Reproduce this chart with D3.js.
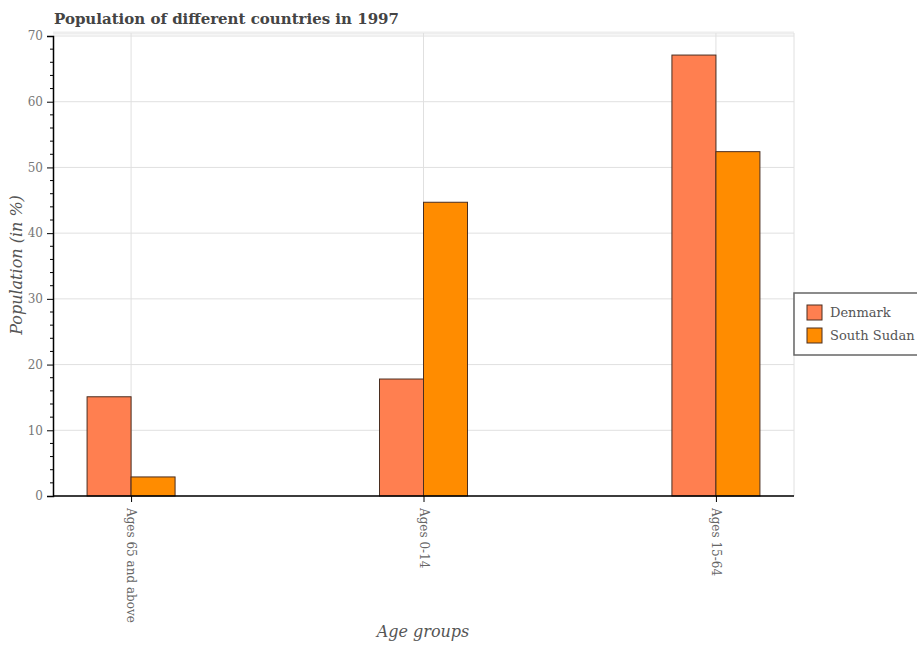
<!DOCTYPE html>
<html><head><meta charset="utf-8">
<script src="https://cdn.jsdelivr.net/npm/d3@7"></script>
<style>body{margin:0;background:#fff}</style>
</head><body>
<svg id="c" width="917" height="650"></svg>
<script>
const categories = ["Ages 65 and above", "Ages 0-14", "Ages 15-64"];
const seriesNames = ["Denmark", "South Sudan"];
const denmark = [15.1, 17.8, 67.1];
const southSudan = [2.9, 44.7, 52.4];
const colors = ["#ff7f50", "#ff8c00"];
const yTicks = [0, 10, 20, 30, 40, 50, 60, 70];

const svg = d3.select("#c");
const L = 53, R = 794, T = 33, B = 496;
const x = d3.scalePoint().domain(categories).range([L, R]).padding(0.267);
const y = d3.scaleLinear().domain([0, 70]).range([B, 36]);
const bw = 44;
const font = "DejaVu Serif, serif";

// gridlines
svg.append("line").attr("x1", L).attr("x2", R).attr("y1", T).attr("y2", T).attr("stroke", "#eee").attr("stroke-width", 3);
svg.append("g").selectAll("line").data(yTicks).join("line")
  .attr("x1", L).attr("x2", R).attr("y1", d => y(d)).attr("y2", d => y(d))
  .attr("stroke", "#e0e0e0").attr("stroke-width", 1);
svg.append("g").selectAll("line").data(categories).join("line")
  .attr("x1", d => x(d)).attr("x2", d => x(d)).attr("y1", T).attr("y2", B)
  .attr("stroke", "#e0e0e0").attr("stroke-width", 1);
svg.append("line").attr("x1", R).attr("x2", R).attr("y1", T).attr("y2", B).attr("stroke", "#e0e0e0");

// bars
const series = [denmark, southSudan];
series.forEach((vals, si) => {
  svg.append("g").selectAll("rect").data(categories).join("rect")
    .attr("x", d => x(d) + (si === 0 ? -bw : 0))
    .attr("y", (d, i) => y(vals[i]))
    .attr("width", bw)
    .attr("height", (d, i) => B - y(vals[i]))
    .attr("fill", colors[si])
    .attr("stroke", "#4a2e20").attr("stroke-width", 1);
});

// y axis
const ya = svg.append("g").attr("transform", `translate(${L},0)`)
  .call(d3.axisLeft(y).tickValues(yTicks).tickSize(6).tickPadding(4));
ya.select(".domain").attr("stroke", "#000").attr("stroke-width", 1.5);
ya.selectAll("text").attr("font-family", font).attr("font-size", 12).attr("fill", "#777");
const minor = d3.range(0, 71, 2).filter(v => v % 10 !== 0);
svg.append("g").selectAll("line").data(minor).join("line")
  .attr("x1", L - 3).attr("x2", L).attr("y1", d => y(d)).attr("y2", d => y(d)).attr("stroke", "#000");

// x axis
const xa = svg.append("g").attr("transform", `translate(0,${B})`)
  .call(d3.axisBottom(x).tickSize(6).tickSizeOuter(0));
xa.select(".domain").attr("stroke", "#000").attr("stroke-width", 1.5).attr("d", `M${L},0H${R}`);
xa.selectAll("text").attr("font-family", font).attr("font-size", 12).attr("fill", "#666")
  .attr("transform", "rotate(90)").attr("text-anchor", "start").attr("dy", "0.35em").attr("x", 12).attr("y", 0);

// title
svg.append("text").attr("x", 54).attr("y", 24).text("Population of different countries in 1997")
  .attr("font-family", "DejaVu Serif, serif").attr("font-weight", "bold")
  .attr("font-size", 15).attr("fill", "#444");

// axis titles
svg.append("text").attr("x", 423).attr("y", 637).attr("text-anchor", "middle").text("Age groups")
  .attr("font-family", font).attr("font-style", "italic").attr("font-size", 16).attr("fill", "#555");
svg.append("text").attr("transform", "translate(22,265) rotate(-90)").attr("text-anchor", "middle")
  .text("Population (in %)").attr("font-family", font).attr("font-style", "italic").attr("font-size", 16).attr("fill", "#555");

// legend
const lg = svg.append("g");
lg.append("rect").attr("x", 794).attr("y", 293).attr("width", 130).attr("height", 62)
  .attr("fill", "#fff").attr("stroke", "#666").attr("stroke-width", 1.5);
seriesNames.forEach((n, i) => {
  lg.append("rect").attr("x", 807).attr("y", 305 + i * 23).attr("width", 15).attr("height", 15)
    .attr("fill", colors[i]).attr("stroke", "#4a2e20");
  lg.append("text").attr("x", 830).attr("y", 317 + i * 23).text(n)
    .attr("font-family", font).attr("font-size", 13).attr("fill", "#555");
});
</script>
</body></html>
